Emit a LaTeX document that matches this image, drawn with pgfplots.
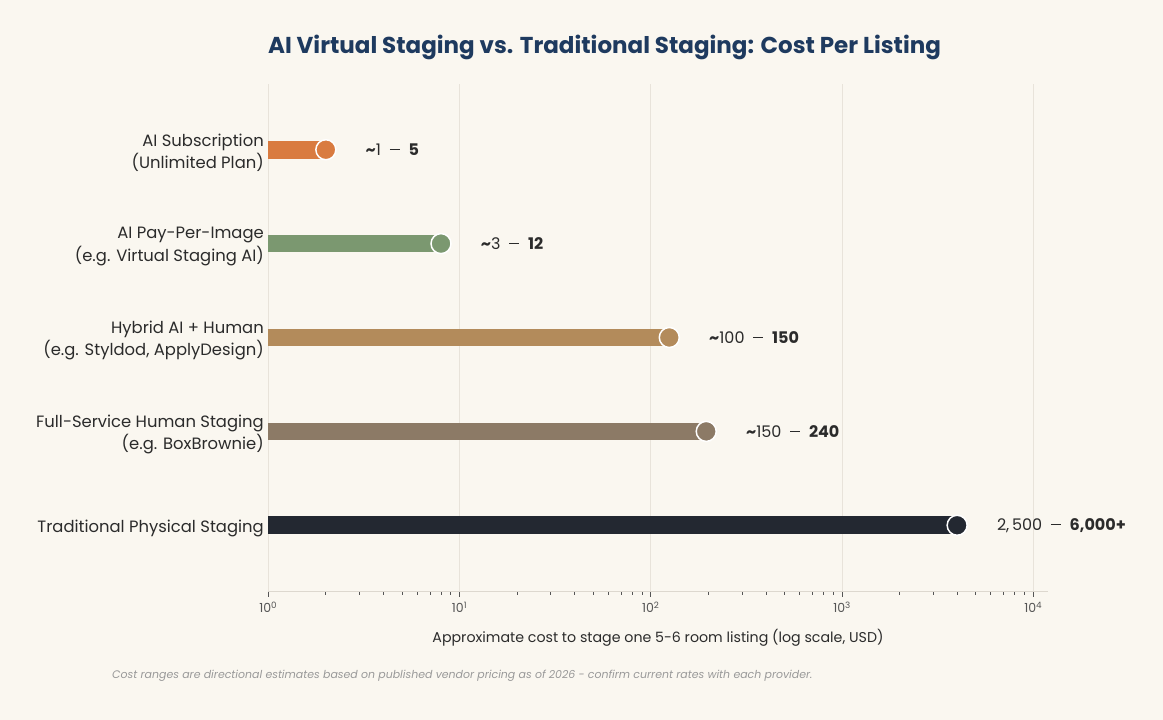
\documentclass[border=0pt]{standalone}
\usepackage{fontspec}
\setmainfont{Poppins}
\usepackage{pgfplots}
\pgfplotsset{compat=1.18}
\definecolor{bg}{HTML}{FAF7F0}
\definecolor{ttl}{HTML}{1E3A5F}
\definecolor{corange}{HTML}{D97B40}
\definecolor{cgreen}{HTML}{7B9870}
\definecolor{ctan}{HTML}{B38B5B}
\definecolor{ctaupe}{HTML}{8C7A66}
\definecolor{cdark}{HTML}{232831}
\definecolor{gridc}{HTML}{E8E3DA}
\definecolor{axisc}{HTML}{DDD8CF}
\definecolor{tickc}{HTML}{555555}
\definecolor{txt}{HTML}{2B2B2B}
\definecolor{foot}{HTML}{999999}
\newcommand{\rng}{\hspace{4.5pt} \rule[0.32em]{10pt}{1pt} \hspace{4.5pt}}
\begin{document}
\begin{tikzpicture}[x=1pt,y=1pt]
\fill[bg] (0,0) rectangle (1163,720);
\path[use as bounding box] (0,0) rectangle (1163,720);
\node[font=\fontsize{23}{28}\selectfont\bfseries, text=ttl] at (604.5,673) {AI Virtual Staging vs. Traditional Staging: Cost Per Listing};
\begin{axis}[
  at={(268.3pt,129pt)}, anchor=south west, scale only axis,
  width=779.4pt, height=507pt,
  xmode=log, xmin=1, xmax=11900, ymin=-0.7, ymax=4.7,
  axis lines*=left,
  y axis line style={draw=none},
  x axis line style={color=axisc, line width=0.8pt},
  ytick={0,1,2,3,4},
  yticklabels={Traditional Physical Staging,{Full-Service Human Staging\\(e.g. BoxBrownie)},{Hybrid AI + Human\\(e.g. Styldod, ApplyDesign)},{AI Pay-Per-Image\\(e.g. Virtual Staging AI)},{AI Subscription\\(Unlimited Plan)}},
  ytick style={draw=none},
  yticklabel style={align=right, font=\fontsize{16.4}{22.5}\selectfont, text=txt, xshift=5pt, yshift=-3pt},
  xtick={1,10,100,1000,10000},
  xticklabels={10\textsuperscript{0},10\textsuperscript{1},10\textsuperscript{2},10\textsuperscript{3},10\textsuperscript{4}},
  minor xtick={2,3,4,5,6,7,8,9,20,30,40,50,60,70,80,90,200,300,400,500,600,700,800,900,2000,3000,4000,5000,6000,7000,8000,9000},
  xticklabel style={font=\fontsize{12.5}{14}\selectfont, text=tickc, yshift=-1.5pt},
  tick align=outside, major tick length=6pt, minor tick length=4pt,
  xtick style={color=tickc, line width=0.8pt},
  xmajorgrids, major grid style={color=gridc, line width=0.8pt},
  clip=false,
]
\addplot[corange, line width=17.7pt, line cap=butt] coordinates {(1,4) (2,4)}
  node[pos=1, anchor=west, inner sep=0, xshift=31pt, text=txt, font=\fontsize{16}{20}\selectfont] {\textbf{\textasciitilde}1\rng\textbf{5}};
\addplot[only marks, mark=*, mark size=10pt, mark options={fill=corange, draw=white, line width=1.5pt}] coordinates {(2,4)};
\addplot[cgreen, line width=17.7pt, line cap=butt] coordinates {(1,3) (8,3)}
  node[pos=1, anchor=west, inner sep=0, xshift=31pt, text=txt, font=\fontsize{16}{20}\selectfont] {\textbf{\textasciitilde}3\rng\textbf{12}};
\addplot[only marks, mark=*, mark size=10pt, mark options={fill=cgreen, draw=white, line width=1.5pt}] coordinates {(8,3)};
\addplot[ctan, line width=17.7pt, line cap=butt] coordinates {(1,2) (125,2)}
  node[pos=1, anchor=west, inner sep=0, xshift=31pt, text=txt, font=\fontsize{16}{20}\selectfont] {\textbf{\textasciitilde}100\rng\textbf{150}};
\addplot[only marks, mark=*, mark size=10pt, mark options={fill=ctan, draw=white, line width=1.5pt}] coordinates {(125,2)};
\addplot[ctaupe, line width=17.7pt, line cap=butt] coordinates {(1,1) (195,1)}
  node[pos=1, anchor=west, inner sep=0, xshift=31pt, text=txt, font=\fontsize{16}{20}\selectfont] {\textbf{\textasciitilde}150\rng\textbf{240}};
\addplot[only marks, mark=*, mark size=10pt, mark options={fill=ctaupe, draw=white, line width=1.5pt}] coordinates {(195,1)};
\addplot[cdark, line width=17.7pt, line cap=butt] coordinates {(1,0) (4000,0)}
  node[pos=1, anchor=west, inner sep=0, xshift=31pt, text=txt, font=\fontsize{16}{20}\selectfont] {2,\,500\rng\textbf{6,000+}};
\addplot[only marks, mark=*, mark size=10pt, mark options={fill=cdark, draw=white, line width=1.5pt}] coordinates {(4000,0)};
\end{axis}
\node[font=\fontsize{14.2}{17}\selectfont, text=txt] at (658,82) {Approximate cost to stage one 5-6 room listing (log scale, USD)};
\node[anchor=west, inner sep=0, font=\fontsize{10.95}{13}\selectfont\itshape, text=foot] at (112,44) {Cost ranges are directional estimates based on published vendor pricing as of 2026 - confirm current rates with each provider.};
\end{tikzpicture}
\end{document}
